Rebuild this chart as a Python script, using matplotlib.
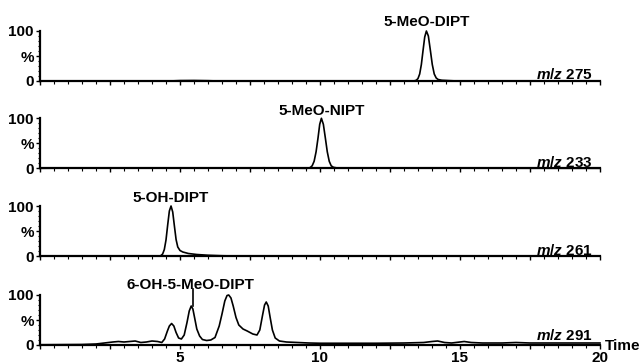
import matplotlib
matplotlib.use("Agg")
import matplotlib.pyplot as plt
from matplotlib.ticker import FixedLocator, MultipleLocator

plt.rcParams['font.family'] = ['Liberation Sans', 'DejaVu Sans']
plt.rcParams['font.weight'] = 'bold'
plt.rcParams['mathtext.fontset'] = 'custom'
plt.rcParams['mathtext.it'] = 'Liberation Sans:italic:bold'
plt.rcParams['mathtext.rm'] = 'Liberation Sans:bold'
plt.rcParams['mathtext.bf'] = 'Liberation Sans:bold'

# ---- data (time in min, relative intensity %) ----
t_275 = [0, 4.6, 5.0, 5.5, 6.0, 6.4, 13.35, 13.44, 13.5, 13.56, 13.62, 13.68, 13.74, 13.8,
         13.87, 13.94, 14.01, 14.08, 14.15, 14.22, 14.35, 14.6, 14.9, 20]
i_275 = [0, 0, 0.8, 1.0, 0.6, 0, 0, 1.5, 5, 14, 33, 61, 88, 100,
         90, 62, 33, 14, 6, 3, 1.5, 0.8, 0, 0]

t_233 = [0, 2.0, 3.0, 4.0, 5.0, 7.5, 8.0, 8.5, 9.55, 9.65, 9.72, 9.79, 9.86, 9.93, 9.99, 10.05,
         10.12, 10.19, 10.26, 10.33, 10.4, 10.48, 10.6, 10.9, 11.5, 12.5, 20]
i_233 = [0, 0.8, 0.8, 0.8, 0.6, 0.6, 1.0, 0.5, 0, 1.5, 5, 14, 33, 61, 88, 100,
         88, 61, 33, 14, 5, 2, 0.8, 0.3, 0.6, 0.4, 0]

t_261 = [0, 4.3, 4.38, 4.44, 4.5, 4.56, 4.62, 4.68, 4.74, 4.8, 4.86, 4.92, 5.0, 5.1, 5.3,
         5.6, 6.0, 6.5, 7.0, 20]
i_261 = [0, 0, 4, 13, 32, 62, 90, 100, 88, 60, 33, 18, 11, 8, 5,
         3, 1.5, 0.5, 0, 0]

t_291 = [0, 1.5, 2.0, 2.3, 2.6, 2.8, 3.0, 3.2, 3.4, 3.6, 3.8, 4.0, 4.2, 4.35, 4.45,
         4.55, 4.62, 4.7, 4.78, 4.86, 4.95, 5.05, 5.15, 5.25, 5.33, 5.4, 5.46, 5.52, 5.6,
         5.7, 5.8, 5.95, 6.1, 6.25, 6.4, 6.5, 6.6, 6.68, 6.74, 6.82, 6.9, 7.0, 7.1, 7.25,
         7.4, 7.6, 7.75, 7.85, 7.95, 8.02, 8.08, 8.15, 8.22, 8.3, 8.4, 8.55, 8.8, 9.2, 9.6,
         10.0, 11.0, 12.0, 13.0, 13.7, 14.0, 14.2, 14.45, 14.7, 15.0, 15.15, 15.4, 15.8,
         16.5, 17.0, 17.5, 18.0, 19.0, 20.0]
i_291 = [0.5, 1, 2, 4, 6, 7, 6, 7, 8, 5, 6, 8, 7, 5, 12,
         28, 38, 43, 38, 25, 14, 12, 20, 45, 68, 78, 72, 55, 32,
         18, 11, 9, 10, 15, 38, 62, 88, 99, 100, 94, 78, 55, 40, 32,
         28, 22, 20, 30, 60, 80, 86, 78, 55, 30, 14, 8, 6, 5, 4,
         3.5, 3.5, 3.5, 4, 5, 7, 8, 5, 4, 6, 7, 5, 4,
         4, 5, 4, 4, 4, 4]

marker_291 = (5.46, 78, 112)

traces = [(t_275, i_275), (t_233, i_233), (t_261, i_261), (t_291, i_291)]
mz_labels = ["275", "233", "261", "291"]
mz_label_y = [4, 3, 2, 10]
compounds = ["5-MeO-DIPT", "5-MeO-NIPT", "5-OH-DIPT", "6-OH-5-MeO-DIPT"]
compound_pos = [(13.8, 118), (10.05, 115), (4.68, 116), (5.39, 120)]
x_ticklabels = {5: "5", 10: "10", 15: "15", 20: "20"}

for t, i in traces:
    assert len(t) == len(i)

fig = plt.figure(figsize=(6.44, 3.64), dpi=100)
W, H = 644, 364
zero_px = [81, 168.3, 256, 345]
panel_h = 50

for k, (t, i) in enumerate(traces):
    bottom = 1 - zero_px[k] / H
    ax = fig.add_axes([40 / W, bottom, 560 / W, panel_h / H])
    ax.plot(t, i, color="black", lw=1.2, clip_on=False, solid_joinstyle="round")
    ax.set_xlim(0, 20)
    ax.set_ylim(0, 100)
    for s in ["top", "right"]:
        ax.spines[s].set_visible(False)
    for s in ["left", "bottom"]:
        ax.spines[s].set_linewidth(1.6)
    ax.xaxis.set_major_locator(FixedLocator([2.5 * n for n in range(9)]))
    ax.xaxis.set_minor_locator(MultipleLocator(0.5))
    ax.yaxis.set_major_locator(FixedLocator([0, 50, 100]))
    ax.yaxis.set_minor_locator(MultipleLocator(10))
    ax.set_yticklabels(["0", "%", "100"])
    ax.tick_params(axis="y", which="major", length=3, width=1, pad=1.5, labelsize=11)
    ax.tick_params(axis="y", which="minor", length=1.8, width=0.8)
    ax.tick_params(axis="x", which="major", length=3.2, width=1, pad=1, labelsize=11)
    ax.tick_params(axis="x", which="minor", length=1.8, width=0.8)
    for lab in ax.get_yticklabels():
        lab.set_fontweight("bold")
    if k == 3:
        labs = [x_ticklabels.get(int(v), "") if float(v).is_integer() else ""
                for v in [2.5 * n for n in range(9)]]
        ax.set_xticklabels(labs)
        for lab in ax.get_xticklabels():
            lab.set_fontweight("bold")
        ax.plot([marker_291[0], marker_291[0]], [marker_291[1], marker_291[2]],
                color="black", lw=1.2, clip_on=False)
    else:
        ax.set_xticklabels([])
    cx, cy = compound_pos[k]
    ax.text(cx, cy, compounds[k], ha="center", va="center", fontsize=11,
            fontweight="bold", clip_on=False)
    ax.text(19.75, mz_label_y[k], r"$m/z$ " + mz_labels[k], ha="right", va="baseline",
            fontsize=11, fontweight="bold")

fig.text(605 / W, 1 - 346 / H, "Time", ha="left", va="center", fontsize=11,
         fontweight="bold")

fig.savefig("out.png", dpi=100)
